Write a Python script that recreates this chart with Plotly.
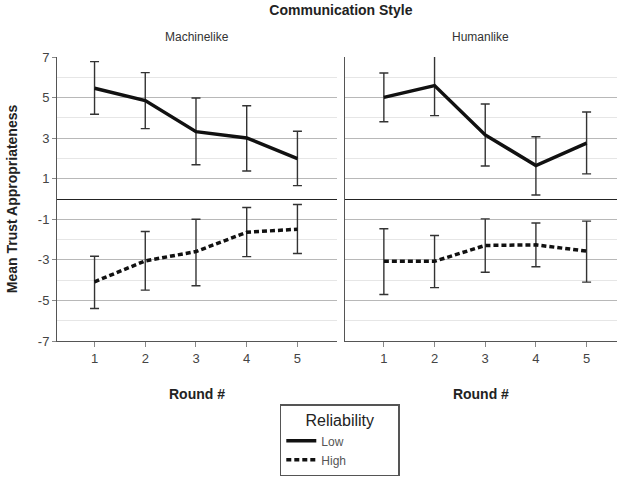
import plotly.graph_objects as go

rounds = [1, 2, 3, 4, 5]

# Machinelike panel
mach_low = [5.46, 4.85, 3.32, 3.01, 1.99]
mach_low_hi = [6.77, 6.23, 4.98, 4.60, 3.34]
mach_low_lo = [4.18, 3.47, 1.69, 1.38, 0.66]
mach_high = [-4.08, -3.05, -2.59, -1.64, -1.49]
mach_high_hi = [-2.82, -1.60, -1.00, -0.42, -0.27]
mach_high_lo = [-5.40, -4.49, -4.28, -2.84, -2.69]

# Humanlike panel
hum_low = [5.01, 5.59, 3.16, 1.65, 2.75]
hum_low_hi = [6.21, 7.06, 4.68, 3.07, 4.29]
hum_low_lo = [3.81, 4.11, 1.63, 0.20, 1.24]
hum_high = [-3.07, -3.07, -2.29, -2.26, -2.57]
hum_high_hi = [-1.47, -1.80, -0.98, -1.18, -1.09]
hum_high_lo = [-4.71, -4.37, -3.61, -3.34, -4.10]

y_ticks = [-7, -5, -3, -1, 1, 3, 5, 7]
panel_names = ["Machinelike", "Humanlike"]
series_names = ["Low", "High"]

FONT = "Arial, Liberation Sans, sans-serif"
ERR_COLOR = "#333333"
NB = "\u00a0"


def err(mean, hi, lo):
    return dict(
        type="data",
        symmetric=False,
        array=[h - m for h, m in zip(hi, mean)],
        arrayminus=[m - l for m, l in zip(mean, lo)],
        color=ERR_COLOR,
        thickness=1.4,
        width=4.5,
    )


fig = go.Figure()
panels = [
    ("x", "y", mach_low, mach_low_hi, mach_low_lo, mach_high, mach_high_hi, mach_high_lo),
    ("x2", "y2", hum_low, hum_low_hi, hum_low_lo, hum_high, hum_high_hi, hum_high_lo),
]
for i, (xa, ya, lo_m, lo_h, lo_l, hi_m, hi_h, hi_l) in enumerate(panels):
    fig.add_trace(go.Scatter(
        x=rounds, y=lo_m, xaxis=xa, yaxis=ya, mode="lines", cliponaxis=False,
        name=series_names[0], legendgroup="low", showlegend=(i == 0),
        line=dict(color="#111111", width=3.5),
        error_y=err(lo_m, lo_h, lo_l),
    ))
    fig.add_trace(go.Scatter(
        x=rounds, y=hi_m, xaxis=xa, yaxis=ya, mode="lines", cliponaxis=False,
        name=series_names[1], legendgroup="high", showlegend=(i == 0),
        line=dict(color="#111111", width=3.5, dash="5px,3px"),
        error_y=err(hi_m, hi_h, hi_l),
    ))

xcommon = dict(
    tickvals=rounds, ticktext=[str(r) for r in rounds],
    showgrid=False, zeroline=False,
    showline=True, linecolor="#555555", linewidth=1,
    ticks="outside", ticklen=5, tickcolor="#888888",
    tickfont=dict(family=FONT, size=13, color="#444444"),
    title=dict(text="<b>Round #</b>", font=dict(family=FONT, size=14, color="#222222"), standoff=24),
)

ycommon = dict(
    range=[-7, 7], tickvals=y_ticks,
    showgrid=True, gridcolor="#b8b8b8", gridwidth=1,
    minor=dict(dtick=1, tick0=0, showgrid=True, gridcolor="#e6e6e6", gridwidth=1),
    zeroline=True, zerolinecolor="#222222", zerolinewidth=1.2,
    showline=True, linecolor="#555555", linewidth=1,
)

fig.update_layout(
    width=617, height=482,
    margin=dict(l=57, r=0, t=57, b=141, autoexpand=False),
    paper_bgcolor="white", plot_bgcolor="white",
    font=dict(family=FONT, color="#333333"),
    xaxis=dict(domain=[0, 0.5], range=[0.26, 5.78], anchor="y", **xcommon),
    xaxis2=dict(domain=[0.514, 1], range=[0.23, 5.6], anchor="y2", **xcommon),
    yaxis=dict(
        anchor="x",
        ticktext=[str(v) for v in y_ticks],
        ticks="outside", ticklen=4, tickcolor="#888888",
        tickfont=dict(family=FONT, size=13, color="#444444"),
        title=dict(text="<b>Mean Trust Appropriateness</b>",
                   font=dict(family=FONT, size=14, color="#222222"), standoff=16),
        **ycommon,
    ),
    yaxis2=dict(anchor="x2", matches="y", showticklabels=False, ticks="", **ycommon),
    title=dict(text="<b>Communication Style</b>", x=0.507, xref="paper", xanchor="center",
               y=0.979, yref="container", yanchor="middle",
               font=dict(family=FONT, size=14, color="#222222")),
    legend=dict(
        title=dict(text=NB * 5 + "Reliability" + NB * 5, side="top center",
                   font=dict(family=FONT, size=16, color="#222222")),
        x=0.505, xanchor="center", y=-0.222, yanchor="top",
        bordercolor="#555555", borderwidth=1.5, bgcolor="white",
        font=dict(family=FONT, size=12, color="#555555"),
        itemwidth=30, tracegroupgap=0,
    ),
    showlegend=True,
)

for i, name in enumerate(panel_names):
    ref = "x" if i == 0 else "x2"
    fig.add_annotation(
        text=name, xref=f"{ref} domain", yref="y domain", x=0.5, y=1.0,
        yanchor="bottom", yshift=11, showarrow=False,
        font=dict(family=FONT, size=12, color="#333333"),
    )

fig.write_html(
    "out.html",
    config={"displayModeBar": False},
    post_script="document.body.style.margin='0';document.body.style.overflow='hidden';",
)
